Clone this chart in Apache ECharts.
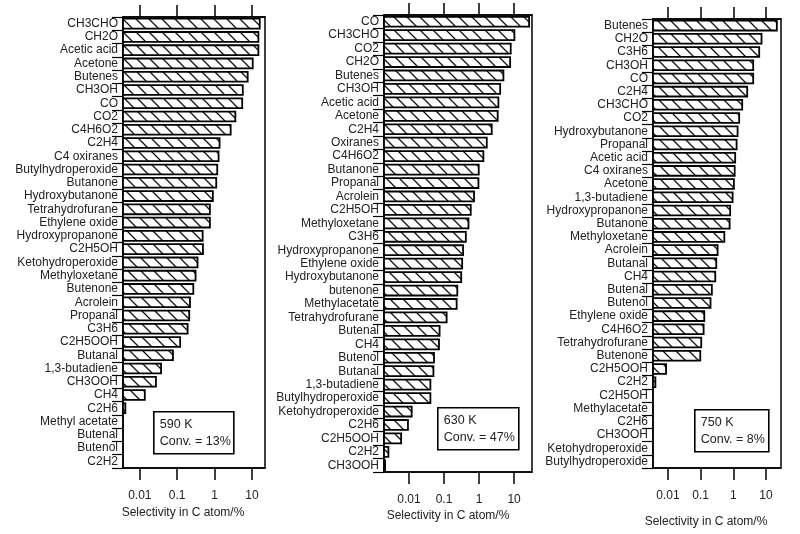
<!DOCTYPE html>
<html>
<head>
<meta charset="utf-8">
<script src="https://cdn.jsdelivr.net/npm/echarts@6/dist/echarts.min.js"></script>
<style>html,body{margin:0;padding:0;background:#fff}#c{width:800px;height:534px}</style>
</head>
<body>
<div id="c"></div>
<script>
// ---- data ----
const cats590 = ["CH3CHO","CH2O","Acetic acid","Acetone","Butenes","CH3OH","CO","CO2","C4H6O2","C2H4","C4 oxiranes","Butylhydroperoxide","Butanone","Hydroxybutanone","Tetrahydrofurane","Ethylene oxide","Hydroxypropanone","C2H5OH","Ketohydroperoxide","Methyloxetane","Butenone","Acrolein","Propanal","C3H6","C2H5OOH","Butanal","1,3-butadiene","CH3OOH","CH4","C2H6","Methyl acetate","Butenal","Butenol","C2H2"];
const vals590 = [16.2,14.9,14.9,10.5,7.7,5.7,5.5,3.6,2.7,1.36,1.28,1.18,1.11,0.90,0.75,0.75,0.48,0.49,0.35,0.31,0.27,0.22,0.21,0.19,0.12,0.077,0.037,0.027,0.0136,0.0041,null,null,null,null];

const cats630 = ["CO","CH3CHO","CO2","CH2O","Butenes","CH3OH","Acetic acid","Acetone","C2H4","Oxiranes","C4H6O2","Butanone","Propanal","Acrolein","C2H5OH","Methyloxetane","C3H6","Hydroxypropanone","Ethylene oxide","Hydroxybutanone","butenone","Methylacetate","Tetrahydrofurane","Butenal","CH4","Butenol","Butanal","1,3-butadiene","Butylhydroperoxide","Ketohydroperoxide","C2H6","C2H5OOH","C2H2","CH3OOH"];
const vals630 = [26.8,10.2,8.0,7.7,4.95,4.0,3.56,3.4,2.3,1.66,1.33,0.98,0.96,0.72,0.58,0.50,0.42,0.35,0.33,0.31,0.24,0.23,0.119,0.075,0.072,0.052,0.050,0.041,0.041,0.012,0.0094,0.006,0.0026,0.0021];

const cats750 = ["Butenes","CH2O","C3H6","CH3OH","CO","C2H4","CH3CHO","CO2","Hydroxybutanone","Propanal","Acetic acid","C4 oxiranes","Acetone","1,3-butadiene","Hydroxypropanone","Butanone","Methyloxetane","Acrolein","Butanal","CH4","Butenal","Butenol","Ethylene oxide","C4H6O2","Tetrahydrofurane","Butenone","C2H5OOH","C2H2","C2H5OH","Methylacetate","C2H6","CH3OOH","Ketohydroperoxide","Butylhydroperoxide"];
const vals750 = [21.5,7.3,6.2,4.06,4.06,2.66,1.87,1.51,1.35,1.26,1.14,1.10,1.04,0.95,0.80,0.77,0.53,0.33,0.30,0.28,0.22,0.20,0.129,0.123,0.104,0.097,0.0087,0.0041,null,null,null,null,null,null];

const tickValues = [0.01, 0.1, 1, 10];
const tickLabels = ["0.01", "0.1", "1", "10"];
const axisTitle = "Selectivity in C atom/%";
const panelTemps = ["590 K", "630 K", "750 K"];
const panelConv = ["Conv. = 13%", "Conv. = 47%", "Conv. = 8%"];

// ---- hatch pattern ----
const S = 13;
const pat = document.createElement("canvas");
pat.width = S; pat.height = S;
(function () {
  const g = pat.getContext("2d");
  g.fillStyle = "#fff"; g.fillRect(0, 0, S, S);
  g.strokeStyle = "#111"; g.lineWidth = 1.3;
  g.beginPath();
  [-S, 0, S].forEach(o => { g.moveTo(o - 1, -1); g.lineTo(o + S + 1, S + 1); });
  g.stroke();
})();
const hatch = {image: pat, repeat: "repeat"};

// ---- layout ----
const FONT = "Liberation Sans, Arial, sans-serif";
const panels = [
  {cats: cats590, vals: vals590, grid: {left: 123, top: 17, width: 142, height: 451}, min: Math.pow(10, -2.45), max: Math.pow(10, 1.35),
   box: {x: 153, y: 411, w: 80, h: 42}, title: {x: 183, y: 513}},
  {cats: cats630, vals: vals630, grid: {left: 384, top: 15, width: 148, height: 457}, min: Math.pow(10, -2.71), max: Math.pow(10, 1.51),
   box: {x: 437, y: 407, w: 81, h: 42}, title: {x: 448, y: 516}},
  {cats: cats750, vals: vals750, grid: {left: 653, top: 19, width: 128, height: 449}, min: Math.pow(10, -2.46), max: Math.pow(10, 1.46),
   box: {x: 694, y: 409, w: 74, h: 42}, title: {x: 706, y: 522}}
];

const grids = [], xAxes = [], yAxes = [], series = [], graphics = [];
panels.forEach((p, i) => {
  grids.push(Object.assign({show: true, borderColor: "#000", borderWidth: 1.5, backgroundColor: "transparent"}, p.grid));
  const baseX = {
    type: "log", logBase: 10, gridIndex: i, min: p.min, max: p.max,
    splitLine: {show: false},
    axisLine: {show: true, lineStyle: {color: "#000", width: 1.5}},
    axisTick: {show: true, length: 12, inside: false, customValues: tickValues, lineStyle: {color: "#000", width: 1.5}}
  };
  xAxes.push(Object.assign({}, baseX, {
    position: "bottom",
    axisLabel: {show: true, customValues: tickValues, margin: 22, color: "#222", fontSize: 12, fontFamily: FONT,
      formatter: v => { const k = tickValues.findIndex(t => Math.abs(Math.log10(t) - Math.log10(v)) < 1e-6); return k >= 0 ? tickLabels[k] : ""; }}
  }));
  xAxes.push(Object.assign({}, baseX, {position: "top", axisLabel: {show: false}}));
  yAxes.push({
    type: "category", gridIndex: i, data: p.cats, inverse: true,
    axisLine: {show: true, lineStyle: {color: "#000", width: 1.5}},
    axisTick: {show: true, length: 11, inside: false, lineStyle: {color: "#000", width: 1.2}},
    axisLabel: {interval: 0, margin: 5, color: "#222", fontSize: 12, fontFamily: FONT}
  });
  const data = [];
  p.vals.forEach((v, k) => { if (v != null) data.push([v, k]); });
  const axisMin = p.min, nCat = p.cats.length;
  series.push({
    type: "custom", coordinateSystem: "cartesian2d", xAxisIndex: i * 2, yAxisIndex: i,
    data: data, encode: {x: 0, y: 1}, silent: true, animation: false, clip: false,
    renderItem: (params, api) => {
      const v = api.value(0), k = api.value(1);
      const a = api.coord([axisMin, k]);
      const b = api.coord([v, k]);
      const h = params.coordSys.height / nCat * 0.74;
      return {
        type: "rect",
        shape: {x: a[0], y: a[1] - h / 2, width: Math.max(b[0] - a[0], 0.5), height: h},
        style: {fill: hatch, stroke: "#000", lineWidth: 1.8}
      };
    }
  });
  graphics.push({
    type: "group", left: p.box.x, top: p.box.y,
    children: [
      {type: "rect", shape: {x: 0, y: 0, width: p.box.w, height: p.box.h}, style: {fill: "#fff", stroke: "#000", lineWidth: 1.6}},
      {type: "text", x: 6, y: 13, style: {text: panelTemps[i], fill: "#222", font: "12.5px " + FONT, textVerticalAlign: "middle"}},
      {type: "text", x: 6, y: 30, style: {text: panelConv[i], fill: "#222", font: "12.5px " + FONT, textVerticalAlign: "middle"}}
    ]
  });
  graphics.push({type: "text", x: p.title.x, y: p.title.y,
    style: {text: axisTitle, fill: "#222", font: "12px " + FONT, textAlign: "center", textVerticalAlign: "middle"}});
});

const chart = echarts.init(document.getElementById("c"), null, {renderer: "canvas"});
chart.setOption({
  animation: false,
  backgroundColor: "#fff",
  grid: grids, xAxis: xAxes, yAxis: yAxes, series: series, graphic: graphics
});
</script>
</body>
</html>
